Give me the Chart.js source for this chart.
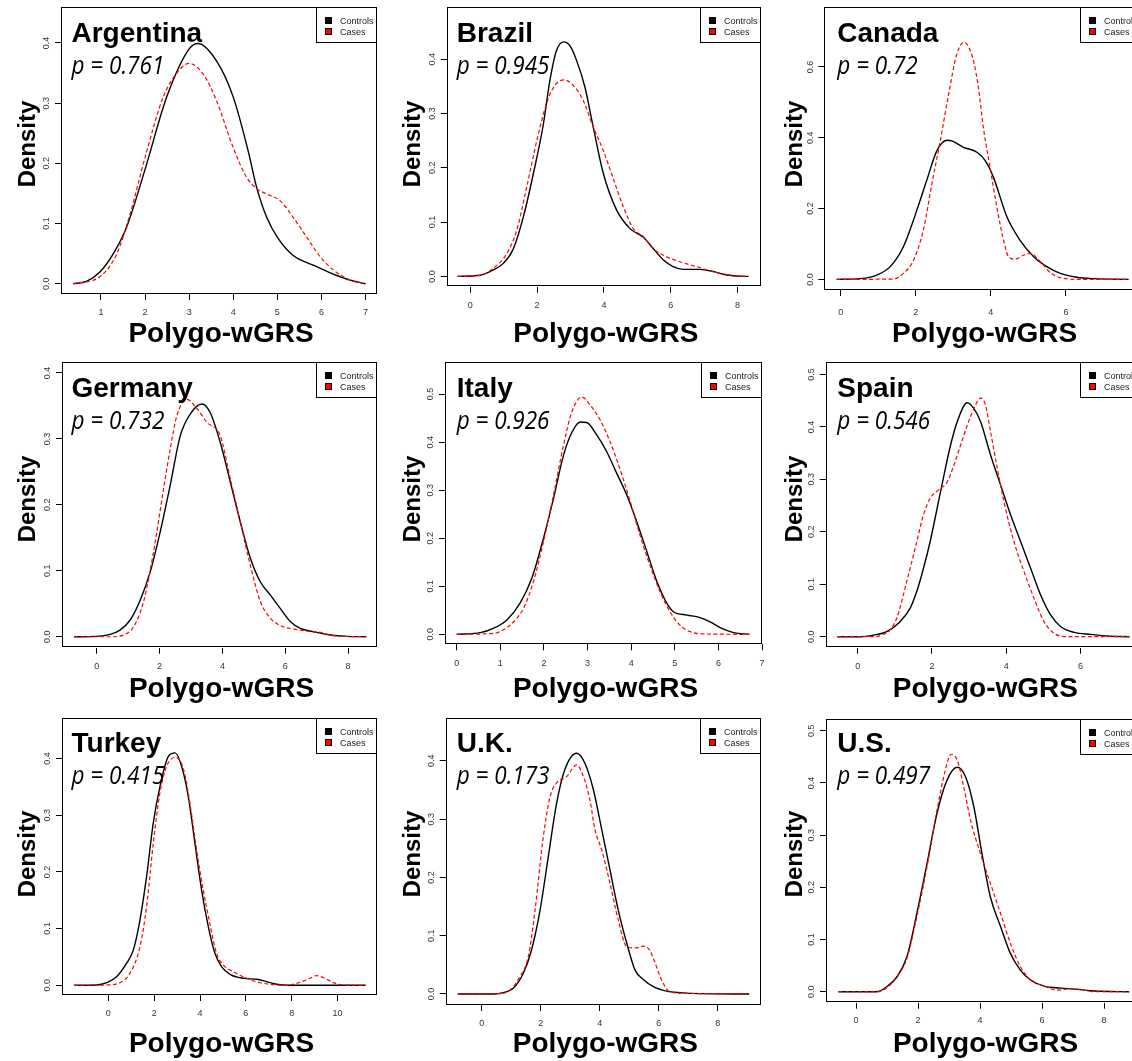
<!DOCTYPE html>
<html>
<head>
<meta charset="utf-8">
<title>Polygo-wGRS density by country</title>
<script src="https://cdn.jsdelivr.net/npm/chart.js@4.4.0/dist/chart.umd.min.js"></script>
<style>
  html, body { margin: 0; padding: 0; background: #fff; overflow: hidden; }
  #wrap { position: relative; width: 1132px; height: 1061px; overflow: hidden; background: #fff; }
  #wrap canvas { position: absolute; }
</style>
</head>
<body>
<div id="wrap"></div>
<script>
// ---------- Daten ----------
const countries = ["Argentina", "Brazil", "Canada", "Germany", "Italy", "Spain", "Turkey", "U.K.", "U.S."];
const pValues = ["0.761", "0.945", "0.72", "0.732", "0.926", "0.546", "0.415", "0.173", "0.497"];
const seriesNames = ["Controls", "Cases"];
const xAxisLabel = "Polygo-wGRS";
const yAxisLabel = "Density";

// Achsenticks je Land
const argentinaXTicks = [1, 2, 3, 4, 5, 6, 7];
const brazilXTicks = [0, 2, 4, 6, 8];
const canadaXTicks = [0, 2, 4, 6];
const germanyXTicks = [0, 2, 4, 6, 8];
const italyXTicks = [0, 1, 2, 3, 4, 5, 6, 7];
const spainXTicks = [0, 2, 4, 6];
const turkeyXTicks = [0, 2, 4, 6, 8, 10];
const ukXTicks = [0, 2, 4, 6, 8];
const usXTicks = [0, 2, 4, 6, 8];

const argentinaYTicks = [0, 0.1, 0.2, 0.3, 0.4];
const brazilYTicks = [0, 0.1, 0.2, 0.3, 0.4];
const canadaYTicks = [0, 0.2, 0.4, 0.6];
const germanyYTicks = [0, 0.1, 0.2, 0.3, 0.4];
const italyYTicks = [0, 0.1, 0.2, 0.3, 0.4, 0.5];
const spainYTicks = [0, 0.1, 0.2, 0.3, 0.4, 0.5];
const turkeyYTicks = [0, 0.1, 0.2, 0.3, 0.4];
const ukYTicks = [0, 0.1, 0.2, 0.3, 0.4];
const usYTicks = [0, 0.1, 0.2, 0.3, 0.4, 0.5];

// Argentina
const argentinaControlsX = [0.37, 0.67, 0.98, 1.28, 1.58, 2.0, 2.49, 3.0, 3.2, 3.62, 4.0, 4.34, 4.53, 4.76, 5.02, 5.36, 5.81, 6.27, 6.65, 7.0];
const argentinaControlsY = [0.0, 0.004, 0.02, 0.05, 0.094, 0.19, 0.31, 0.39, 0.399, 0.37, 0.31, 0.22, 0.16, 0.11, 0.075, 0.047, 0.031, 0.016, 0.006, 0.0];
const argentinaCasesX = [0.37, 0.98, 1.36, 1.66, 2.0, 2.41, 2.72, 3.0, 3.32, 3.62, 4.0, 4.3, 4.53, 4.76, 5.06, 5.36, 5.66, 5.97, 6.27, 6.65, 7.0];
const argentinaCasesY = [0.0, 0.012, 0.05, 0.116, 0.21, 0.31, 0.35, 0.366, 0.348, 0.304, 0.226, 0.177, 0.158, 0.149, 0.138, 0.11, 0.078, 0.045, 0.023, 0.006, 0.0];

// Brazil
const brazilControlsX = [-0.38, 0.29, 0.59, 0.99, 1.29, 1.59, 1.89, 2.18, 2.38, 2.58, 2.8, 2.98, 3.18, 3.43, 3.68, 3.98, 4.38, 4.78, 5.18, 5.48, 5.78, 6.07, 6.37, 6.87, 7.27, 7.67, 8.32];
const brazilControlsY = [0.0, 0.002, 0.009, 0.024, 0.051, 0.11, 0.19, 0.278, 0.36, 0.416, 0.432, 0.425, 0.398, 0.349, 0.275, 0.19, 0.122, 0.088, 0.072, 0.051, 0.03, 0.018, 0.013, 0.013, 0.009, 0.0025, 0.0];
const brazilCasesX = [-0.38, 0.29, 0.69, 1.09, 1.39, 1.69, 1.99, 2.28, 2.53, 2.8, 3.08, 3.38, 3.68, 3.98, 4.28, 4.58, 4.88, 5.18, 5.48, 5.88, 6.27, 6.77, 7.27, 7.77, 8.32];
const brazilCasesY = [0.0, 0.002, 0.015, 0.042, 0.085, 0.165, 0.25, 0.318, 0.352, 0.362, 0.352, 0.324, 0.275, 0.232, 0.18, 0.128, 0.088, 0.073, 0.051, 0.036, 0.027, 0.018, 0.0086, 0.0025, 0.0];

// Canada
const canadaControlsX = [-0.11, 0.52, 0.96, 1.32, 1.67, 1.98, 2.29, 2.56, 2.83, 2.96, 3.27, 3.63, 3.85, 4.07, 4.43, 4.78, 5.14, 5.49, 5.85, 6.29, 6.74, 7.67];
const canadaControlsY = [0.0, 0.002, 0.012, 0.036, 0.092, 0.18, 0.279, 0.363, 0.393, 0.391, 0.373, 0.359, 0.335, 0.288, 0.176, 0.11, 0.064, 0.036, 0.017, 0.006, 0.002, 0.0];
const canadaCasesX = [-0.11, 1.4, 1.67, 1.94, 2.2, 2.43, 2.65, 2.87, 3.09, 3.29, 3.4, 3.54, 3.67, 3.8, 3.98, 4.16, 4.34, 4.47, 4.65, 4.87, 5.05, 5.32, 5.58, 5.85, 6.29, 7.67];
const canadaCasesY = [0.0, 0.001, 0.017, 0.054, 0.139, 0.27, 0.39, 0.52, 0.635, 0.67, 0.658, 0.616, 0.541, 0.429, 0.316, 0.204, 0.11, 0.064, 0.057, 0.068, 0.073, 0.05, 0.019, 0.005, 0.0, 0.0];

// Germany
const germanyControlsX = [-0.72, 0, 0.43, 0.74, 1.06, 1.38, 1.7, 2.02, 2.34, 2.66, 2.98, 3.35, 3.61, 3.93, 4.25, 4.57, 4.89, 5.21, 5.53, 5.84, 6.16, 6.48, 6.91, 7.33, 7.86, 8.58];
const germanyControlsY = [0.0, 0.0005, 0.0035, 0.01, 0.025, 0.055, 0.098, 0.159, 0.23, 0.305, 0.338, 0.353, 0.34, 0.295, 0.235, 0.174, 0.119, 0.083, 0.063, 0.043, 0.023, 0.0126, 0.0076, 0.0035, 0.001, 0.0];
const germanyCasesX = [-0.72, 0.43, 0.85, 1.17, 1.49, 1.81, 2.13, 2.34, 2.55, 2.87, 3.19, 3.51, 3.93, 4.25, 4.57, 4.89, 5.21, 5.53, 5.84, 6.27, 6.7, 7.12, 7.55, 8.58];
const germanyCasesY = [0.0, 0.0, 0.0025, 0.015, 0.053, 0.129, 0.225, 0.285, 0.335, 0.36, 0.346, 0.325, 0.305, 0.24, 0.174, 0.108, 0.053, 0.028, 0.017, 0.0116, 0.0086, 0.0066, 0.0015, 0.0];

// Italy
const italyControlsX = [0, 0.54, 0.84, 1.15, 1.45, 1.72, 1.99, 2.22, 2.45, 2.64, 2.83, 2.98, 3.21, 3.44, 3.67, 3.9, 4.13, 4.36, 4.59, 4.82, 4.97, 5.28, 5.58, 5.81, 6.04, 6.35, 6.71];
const italyControlsY = [0.0, 0.0035, 0.0125, 0.03, 0.0645, 0.116, 0.2, 0.283, 0.373, 0.42, 0.442, 0.441, 0.415, 0.38, 0.335, 0.29, 0.234, 0.172, 0.11, 0.0645, 0.047, 0.04, 0.0347, 0.026, 0.0139, 0.0035, 0.0];
const italyCasesX = [0, 0.84, 1.22, 1.53, 1.76, 1.99, 2.22, 2.45, 2.64, 2.87, 3.06, 3.29, 3.52, 3.75, 3.98, 4.2, 4.43, 4.66, 4.89, 5.12, 5.35, 5.73, 6.71];
const italyCasesY = [0.0, 0.002, 0.019, 0.054, 0.11, 0.193, 0.29, 0.394, 0.463, 0.494, 0.477, 0.446, 0.4, 0.342, 0.276, 0.207, 0.144, 0.089, 0.047, 0.019, 0.0055, 0.0007, 0.0];

// Spain
const spainControlsX = [-0.55, 0.06, 0.42, 0.78, 1.14, 1.41, 1.59, 1.77, 1.95, 2.23, 2.5, 2.68, 2.95, 3.13, 3.31, 3.58, 3.85, 4.12, 4.39, 4.66, 4.93, 5.2, 5.47, 5.83, 6.28, 6.73, 7.32];
const spainControlsY = [0.0, 0.0, 0.003, 0.0095, 0.0286, 0.054, 0.086, 0.13, 0.181, 0.276, 0.365, 0.41, 0.446, 0.435, 0.41, 0.346, 0.289, 0.232, 0.181, 0.13, 0.079, 0.041, 0.019, 0.0083, 0.0044, 0.0013, 0.0];
const spainCasesX = [-0.55, 0.42, 0.69, 0.87, 1.05, 1.32, 1.59, 1.77, 1.95, 2.18, 2.41, 2.59, 2.77, 2.95, 3.13, 3.31, 3.44, 3.58, 3.76, 3.94, 4.21, 4.48, 4.75, 5.02, 5.29, 5.65, 7.32];
const spainCasesY = [0.0, 0.0, 0.0044, 0.0127, 0.035, 0.105, 0.181, 0.232, 0.264, 0.28, 0.295, 0.327, 0.365, 0.403, 0.435, 0.455, 0.442, 0.39, 0.321, 0.257, 0.181, 0.124, 0.073, 0.0286, 0.0064, 0.0, 0.0];

// Turkey
const turkeyControlsX = [-1.5, -0.51, -0.07, 0.36, 0.8, 1.09, 1.38, 1.67, 1.96, 2.25, 2.62, 2.91, 3.2, 3.49, 3.78, 4.07, 4.36, 4.65, 4.94, 5.31, 5.89, 6.47, 6.9, 7.34, 7.92, 11.22];
const turkeyControlsY = [0.0, 0.0006, 0.0047, 0.015, 0.039, 0.062, 0.115, 0.192, 0.286, 0.35, 0.404, 0.41, 0.386, 0.333, 0.25, 0.168, 0.104, 0.0565, 0.033, 0.0194, 0.0124, 0.0106, 0.0065, 0.0018, 0.0, 0.0];
const turkeyCasesX = [-1.5, -0.07, 0.51, 0.94, 1.38, 1.67, 1.96, 2.25, 2.54, 2.91, 3.27, 3.56, 3.85, 4.14, 4.43, 4.72, 5.01, 5.45, 6.03, 6.61, 7.19, 7.78, 8.36, 8.79, 9.08, 9.45, 9.81, 10.25, 11.22];
const turkeyCasesY = [0.0, 0.0006, 0.0047, 0.021, 0.068, 0.139, 0.25, 0.339, 0.386, 0.402, 0.383, 0.321, 0.239, 0.168, 0.109, 0.0565, 0.036, 0.024, 0.0124, 0.0047, 0.0012, 0.0, 0.0053, 0.0124, 0.017, 0.0124, 0.0047, 0.0006, 0.0];

// U.K.
const ukControlsX = [-0.81, 0.4, 0.73, 1.07, 1.41, 1.69, 1.98, 2.26, 2.54, 2.82, 3.22, 3.5, 3.79, 4.07, 4.35, 4.63, 4.92, 5.2, 5.48, 5.82, 6.27, 6.72, 7.4, 9.07];
const ukControlsY = [0.0, 0.0, 0.0023, 0.0097, 0.0355, 0.0755, 0.144, 0.236, 0.327, 0.385, 0.413, 0.396, 0.35, 0.282, 0.213, 0.144, 0.087, 0.041, 0.025, 0.0126, 0.005, 0.0023, 0.0006, 0.0];
const ukCasesX = [-0.81, 0.62, 0.96, 1.3, 1.58, 1.81, 2.09, 2.32, 2.54, 2.88, 3.22, 3.45, 3.67, 3.84, 4.07, 4.35, 4.63, 4.92, 5.2, 5.5, 5.7, 5.86, 6.1, 6.38, 6.95, 9.07];
const ukCasesY = [0.0, 0.0006, 0.0069, 0.03, 0.064, 0.144, 0.27, 0.339, 0.362, 0.373, 0.393, 0.373, 0.333, 0.282, 0.247, 0.19, 0.127, 0.081, 0.079, 0.082, 0.075, 0.056, 0.024, 0.004, 0.0011, 0.0];

// U.S.
const usControlsX = [-0.57, 0.67, 0.99, 1.32, 1.64, 1.96, 2.29, 2.61, 2.93, 3.26, 3.53, 3.8, 4.06, 4.33, 4.66, 4.98, 5.3, 5.63, 6.06, 6.6, 7.14, 7.68, 8.81];
const usControlsY = [0.0, 0.0, 0.0096, 0.0287, 0.067, 0.15, 0.246, 0.342, 0.405, 0.43, 0.412, 0.354, 0.265, 0.182, 0.125, 0.073, 0.0415, 0.0224, 0.0109, 0.007, 0.0045, 0.0013, 0.0];
const usCasesX = [-0.57, 0.67, 0.99, 1.32, 1.64, 1.96, 2.29, 2.61, 2.88, 3.06, 3.26, 3.47, 3.69, 4.01, 4.33, 4.66, 4.98, 5.3, 5.63, 6.06, 6.49, 6.92, 7.25, 7.68, 8.81];
const usCasesY = [0.0, 0.0, 0.0077, 0.0287, 0.064, 0.144, 0.24, 0.348, 0.425, 0.455, 0.444, 0.393, 0.329, 0.265, 0.208, 0.15, 0.0926, 0.048, 0.0224, 0.0109, 0.0032, 0.0057, 0.0045, 0.0, 0.0];

// ---------- Tabelle für die Panels ----------
const panelData = [
  { cx: argentinaControlsX, cy: argentinaControlsY, kx: argentinaCasesX, ky: argentinaCasesY, xt: argentinaXTicks, yt: argentinaYTicks },
  { cx: brazilControlsX, cy: brazilControlsY, kx: brazilCasesX, ky: brazilCasesY, xt: brazilXTicks, yt: brazilYTicks },
  { cx: canadaControlsX, cy: canadaControlsY, kx: canadaCasesX, ky: canadaCasesY, xt: canadaXTicks, yt: canadaYTicks },
  { cx: germanyControlsX, cy: germanyControlsY, kx: germanyCasesX, ky: germanyCasesY, xt: germanyXTicks, yt: germanyYTicks },
  { cx: italyControlsX, cy: italyControlsY, kx: italyCasesX, ky: italyCasesY, xt: italyXTicks, yt: italyYTicks },
  { cx: spainControlsX, cy: spainControlsY, kx: spainCasesX, ky: spainCasesY, xt: spainXTicks, yt: spainYTicks },
  { cx: turkeyControlsX, cy: turkeyControlsY, kx: turkeyCasesX, ky: turkeyCasesY, xt: turkeyXTicks, yt: turkeyYTicks },
  { cx: ukControlsX, cy: ukControlsY, kx: ukCasesX, ky: ukCasesY, xt: ukXTicks, yt: ukYTicks },
  { cx: usControlsX, cy: usControlsY, kx: usCasesX, ky: usCasesY, xt: usXTicks, yt: usYTicks },
];

// Layout: Plotbox in Seitenpixeln + Achsenbereich (wie R mit 4% Rand)
const panelLayout = [
  { box: [61, 6, 377, 294],          xr: [0.093, 7.26],  yr: [-0.017, 0.459],  xPad: 7 },
  { box: [446.7, 6.7, 761, 286.7],   xr: [-0.706, 8.70], yr: [-0.019, 0.4956], xPad: 7 },
  { box: [824.3, 6, 1141, 290],      xr: [-0.437, 8.0],  yr: [-0.030, 0.768],  xPad: 11 },
  { box: [62, 361.7, 377, 647.7],    xr: [-1.105, 8.92], yr: [-0.0166, 0.416], xPad: 7 },
  { box: [445, 362.3, 762, 644.3],   xr: [-0.268, 7.0],  yr: [-0.0208, 0.566], xPad: 7.5 },
  { box: [825.7, 362.3, 1141, 647.7],xr: [-0.862, 7.63], yr: [-0.021, 0.523],  xPad: 7.5 },
  { box: [62, 718.3, 377, 995],      xr: [-2.02, 11.72], yr: [-0.0171, 0.471], xPad: 7 },
  { box: [445.7, 718.3, 761, 1005],  xr: [-1.22, 9.47],  yr: [-0.0189, 0.473], xPad: 7 },
  { box: [826, 719.3, 1141, 1002.7], xr: [-0.97, 9.19],  yr: [-0.021, 0.522],  xPad: 6.5 },
];

const CANVAS_W = 400;
const CANVAS_H = 355;
const densityBaseX = [35, 40, 41.5];   // je Spalte
const titleLeft = [71.5, 76.7, 77.3];  // je Spalte

// R-artige Box, Titel, p-Wert, Legende und Achsentitel
const rPanelPlugin = {
  id: "rPanel",
  afterDraw(chart, args, opts) {
    const ctx = chart.ctx;
    const a = chart.chartArea;
    ctx.save();

    // Box um den Plotbereich
    ctx.strokeStyle = "#000";
    ctx.lineWidth = 1;
    ctx.strokeRect(Math.round(a.left) + 0.5, Math.round(a.top) + 0.5,
                   Math.round(a.right - a.left) - 1, Math.round(a.bottom - a.top) - 1);

    // Ländername
    ctx.fillStyle = "#000";
    ctx.textAlign = "left";
    ctx.textBaseline = "alphabetic";
    ctx.font = "bold 28px 'Liberation Sans', Arial, sans-serif";
    ctx.fillText(opts.country, opts.titleX, 42);

    // p-Wert (schmal, kursiv)
    ctx.save();
    ctx.translate(opts.titleX, 74);
    ctx.scale(0.9, 1);
    ctx.font = "italic 400 25px 'Open Sans', sans-serif";
    ctx.fillStyle = "#000";
    ctx.fillText("p = " + opts.p, 0, 0);
    ctx.restore();

    // Legende oben rechts
    const lw = 61, lh = 34.5;
    const lx = a.right - lw, ly = a.top;
    ctx.fillStyle = "#fff";
    ctx.fillRect(lx, ly, lw, lh);
    ctx.strokeStyle = "#000";
    ctx.strokeRect(Math.round(lx) + 0.5, Math.round(ly) + 0.5, lw - 1, Math.round(lh));
    const colors = ["#000000", "#ff0000"];
    ctx.font = "9px 'Liberation Sans', Arial, sans-serif";
    seriesNames.forEach((name, i) => {
      const cy = ly + 13 + i * 11.3;
      ctx.fillStyle = colors[i];
      ctx.fillRect(Math.round(lx + 9), Math.round(cy - 3.5), 7, 7);
      ctx.strokeStyle = "#000";
      ctx.strokeRect(Math.round(lx + 9) + 0.5, Math.round(cy - 3.5) + 0.5, 6, 6);
      ctx.fillStyle = "#222";
      ctx.fillText(name, lx + 24, cy + 3.3);
    });

    // Achsentitel
    ctx.fillStyle = "#000";
    ctx.font = "bold 28px 'Liberation Sans', Arial, sans-serif";
    ctx.textAlign = "center";
    ctx.fillText(xAxisLabel, (a.left + a.right) / 2 + 2, 341.7);

    ctx.save();
    ctx.translate(opts.densityX, 144);
    ctx.rotate(-Math.PI / 2);
    ctx.font = "bold 24px 'Liberation Sans', Arial, sans-serif";
    ctx.fillText(yAxisLabel, 0, 0);
    ctx.restore();

    ctx.restore();
  }
};

const wrap = document.getElementById("wrap");

panelData.forEach((d, i) => {
  const col = i % 3, row = Math.floor(i / 3);
  const L = panelLayout[i];
  const left = col * 380, top = row * 355;
  const [bl, bt, br, bb] = L.box;

  const canvas = document.createElement("canvas");
  canvas.width = CANVAS_W;
  canvas.height = CANVAS_H;
  canvas.style.left = left + "px";
  canvas.style.top = top + "px";
  canvas.style.width = CANVAS_W + "px";
  canvas.style.height = CANVAS_H + "px";
  wrap.appendChild(canvas);

  const controls = d.cx.map((x, k) => ({ x: x, y: d.cy[k] }));
  const cases = d.kx.map((x, k) => ({ x: x, y: d.ky[k] }));

  new Chart(canvas.getContext("2d"), {
    type: "line",
    data: {
      datasets: [
        {
          label: seriesNames[1], data: cases, order: 0,
          borderColor: "#ff0000", borderWidth: 1.2, borderDash: [4, 2.5],
          pointRadius: 0, fill: false, cubicInterpolationMode: "monotone"
        },
        {
          label: seriesNames[0], data: controls, order: 1,
          borderColor: "#000000", borderWidth: 1.4,
          pointRadius: 0, fill: false, cubicInterpolationMode: "monotone"
        }
      ]
    },
    options: {
      responsive: false,
      animation: false,
      devicePixelRatio: 1,
      events: [],
      layout: { padding: { left: 0, bottom: 0, top: bt - top, right: CANVAS_W - (br - left) } },
      plugins: {
        legend: { display: false },
        tooltip: { enabled: false },
        rPanel: {
          country: countries[i], p: pValues[i],
          titleX: titleLeft[col], densityX: densityBaseX[col]
        }
      },
      scales: {
        x: {
          type: "linear",
          min: L.xr[0], max: L.xr[1],
          afterBuildTicks: (s) => { s.ticks = d.xt.map(v => ({ value: v })); },
          afterFit: (s) => { s.height = (top + CANVAS_H) - bb; },
          border: { display: false },
          grid: { drawOnChartArea: false, drawTicks: true, tickLength: 6, color: "#000", lineWidth: 1 },
          ticks: {
            autoSkip: false, maxRotation: 0, minRotation: 0, padding: L.xPad,
            color: "#333", font: { family: "'Liberation Sans', Arial, sans-serif", size: 9 },
            callback: (v) => String(v)
          }
        },
        y: {
          type: "linear",
          min: L.yr[0], max: L.yr[1],
          afterBuildTicks: (s) => { s.ticks = d.yt.map(v => ({ value: v })); },
          afterFit: (s) => { s.width = bl - left; },
          border: { display: false },
          grid: { drawOnChartArea: false, drawTicks: true, tickLength: 6, color: "#000", lineWidth: 1 },
          ticks: {
            autoSkip: false, minRotation: 90, maxRotation: 90, crossAlign: "center", padding: 2,
            color: "#333", font: { family: "'Liberation Sans', Arial, sans-serif", size: 9 },
            callback: (v) => v.toFixed(1)
          }
        }
      }
    },
    plugins: [rPanelPlugin]
  });
});
</script>
</body>
</html>
